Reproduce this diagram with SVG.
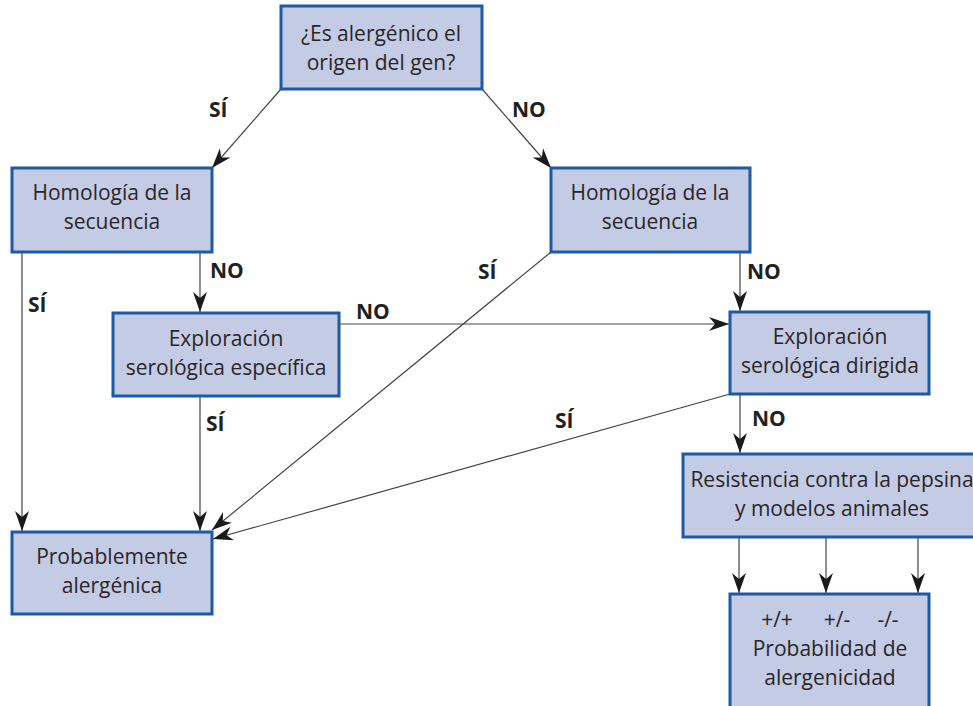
<svg xmlns="http://www.w3.org/2000/svg" width="973" height="706" viewBox="0 0 973 706">
<style>
.box{fill:#c3cbe5;stroke:#1d5aa3;stroke-width:3}
.t{font-family:"Open Sans","DejaVu Sans",sans-serif;font-size:21px;fill:#2a2627;text-anchor:middle}
.lb{font-family:"Open Sans","DejaVu Sans",sans-serif;font-size:21px;font-weight:bold;fill:#231f20}
.c{stroke:#444;stroke-width:1.2;fill:none;marker-end:url(#ah)}
</style>
<defs>
<marker id="ah" markerUnits="userSpaceOnUse" markerWidth="21" markerHeight="16" refX="20" refY="8" orient="auto">
<path d="M0,1 L20,8 L0,15 L6,8 Z" fill="#1a1a1a"/>
</marker>
</defs>
<g id="connectors">
<line class="c" x1="281" y1="89" x2="212" y2="168"/>
<line class="c" x1="482" y1="89" x2="551" y2="168"/>
<line class="c" x1="22" y1="252" x2="22" y2="531"/>
<line class="c" x1="200" y1="252" x2="200" y2="312"/>
<line class="c" x1="200" y1="396" x2="200" y2="531"/>
<line class="c" x1="339" y1="324" x2="729" y2="324"/>
<line class="c" x1="551" y1="252" x2="212" y2="530"/>
<line class="c" x1="730" y1="394" x2="213" y2="539"/>
<line class="c" x1="740" y1="252" x2="740" y2="311"/>
<line class="c" x1="740" y1="394" x2="740" y2="453"/>
<line class="c" x1="739" y1="537" x2="739" y2="593"/>
<line class="c" x1="826" y1="537" x2="826" y2="593"/>
<line class="c" x1="918" y1="537" x2="918" y2="593"/>
<text class="lb" x="209" y="117">SÍ</text>
<text class="lb" x="512" y="117">NO</text>
<text class="lb" x="210" y="278">NO</text>
<text class="lb" x="28" y="312">SÍ</text>
<text class="lb" x="478" y="279">SÍ</text>
<text class="lb" x="356" y="319">NO</text>
<text class="lb" x="747" y="279">NO</text>
<text class="lb" x="206" y="431">SÍ</text>
<text class="lb" x="555" y="428">SÍ</text>
<text class="lb" x="752" y="426">NO</text>
</g>
<g id="n-origen">
<rect class="box" x="281" y="6" width="201" height="83"/>
<text class="t" x="381" y="41">¿Es alergénico el</text>
<text class="t" x="381" y="70">origen del gen?</text>
</g>
<g id="n-homologia-izq">
<rect class="box" x="12" y="168" width="200" height="84"/>
<text class="t" x="112" y="200">Homología de la</text>
<text class="t" x="112" y="229">secuencia</text>
</g>
<g id="n-homologia-der">
<rect class="box" x="551" y="168" width="199" height="84"/>
<text class="t" x="650" y="200">Homología de la</text>
<text class="t" x="650" y="229">secuencia</text>
</g>
<g id="n-exploracion-especifica">
<rect class="box" x="113" y="313" width="226" height="83"/>
<text class="t" x="226" y="346">Exploración</text>
<text class="t" x="226" y="375">serológica específica</text>
</g>
<g id="n-exploracion-dirigida">
<rect class="box" x="730" y="312" width="199" height="82"/>
<text class="t" x="830" y="344">Exploración</text>
<text class="t" x="830" y="373">serológica dirigida</text>
</g>
<g id="n-resistencia">
<rect class="box" x="683" y="454" width="300" height="83"/>
<text class="t" x="832" y="487">Resistencia contra la pepsina</text>
<text class="t" x="832" y="516">y modelos animales</text>
</g>
<g id="n-probablemente">
<rect class="box" x="12" y="532" width="200" height="82"/>
<text class="t" x="112" y="564">Probablemente</text>
<text class="t" x="112" y="593">alergénica</text>
</g>
<g id="n-probabilidad">
<rect class="box" x="730" y="594" width="199" height="120"/>
<text class="t" x="777" y="627">+/+</text>
<text class="t" x="837" y="627">+/-</text>
<text class="t" x="888" y="627">-/-</text>
<text class="t" x="830" y="656">Probabilidad de</text>
<text class="t" x="830" y="685">alergenicidad</text>
</g>
</svg>
